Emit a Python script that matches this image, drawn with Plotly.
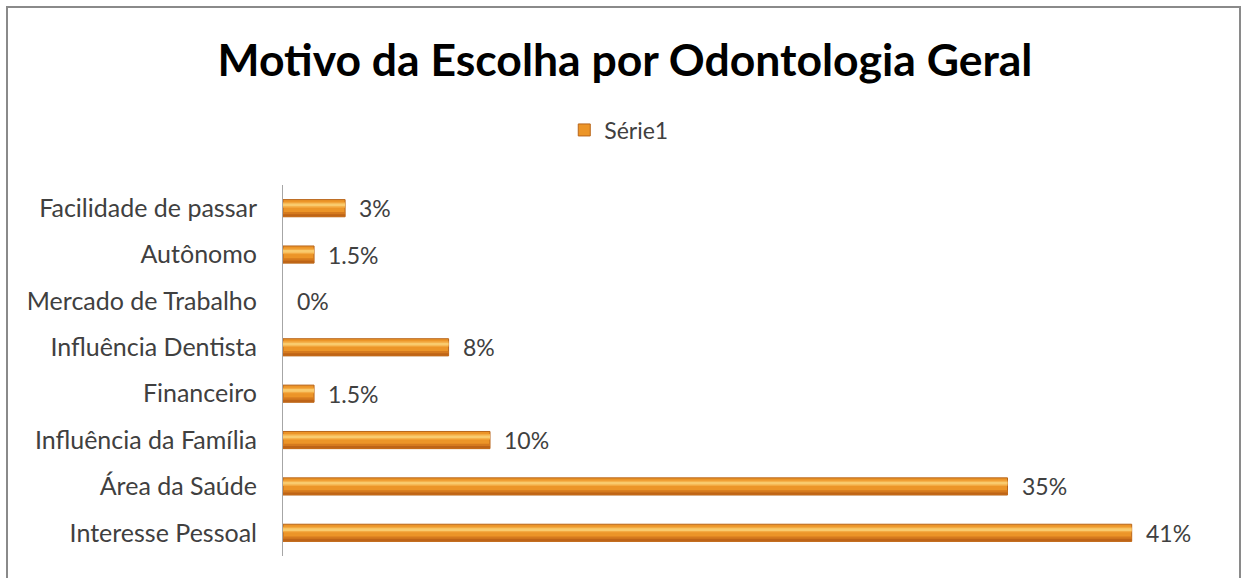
import plotly.graph_objects as go

# Survey answers, listed bottom to top as they appear on the axis
categories = [
    "Interesse Pessoal",
    "Área da Saúde",
    "Influência da Família",
    "Financeiro",
    "Influência Dentista",
    "Mercado de Trabalho",
    "Autônomo",
    "Facilidade de passar",
]
percent = [41, 35, 10, 1.5, 8, 0, 1.5, 3]
series_name = "Série1"
title_text = "Motivo da Escolha por Odontologia Geral"

W, H = 1245, 578
M_L, M_R, M_T, M_B = 283, 31, 185, 22
plot_w = W - M_L - M_R
plot_h = H - M_T - M_B

FONT = "Lato"
BAR_W = 0.37

fig = go.Figure()

# Base orange bar with a darker rim (no rim on empty bars)
fig.add_trace(go.Bar(
    x=percent, y=categories, orientation="h", name=series_name,
    width=BAR_W, offset=-BAR_W / 2,
    marker=dict(color="#EC9528",
                line=dict(color="#B8651A", width=[1 if v > 0 else 0 for v in percent])),
    showlegend=True, hoverinfo="skip",
))

# Shading bands stacked over the base bar: (band width, offset, colour)
shading = [
    (0.10, -BAR_W / 2 + 0.005, "#D57A1E"),
    (0.05, -BAR_W / 2 + 0.005, "#BE6417"),
    (0.12, 0.01, "#F3AA42"),
    (0.06, 0.04, "#F9CB6E"),
]
for band_w, band_off, band_col in shading:
    fig.add_trace(go.Bar(
        x=percent, y=categories, orientation="h",
        width=band_w, offset=band_off,
        marker=dict(color=band_col, line=dict(width=0)),
        showlegend=False, hoverinfo="skip",
    ))

# Value labels next to each bar end
annotations = []
for cat, v in zip(categories, percent):
    annotations.append(dict(
        x=v, y=cat, xref="x", yref="y", text=f"{v:g}%",
        showarrow=False, xanchor="left", yanchor="middle", xshift=12,
        font=dict(family=FONT, size=23, color="#404040"),
    ))

# Outer chart frame
def px_x(p):
    return (p - M_L) / plot_w

def px_y(p):
    return (H - M_B - p) / plot_h

frame = dict(
    type="rect", xref="paper", yref="paper",
    x0=px_x(7), x1=px_x(1240), y0=px_y(600), y1=px_y(7),
    line=dict(color="#8A8A8A", width=2), fillcolor="rgba(0,0,0,0)", layer="below",
)

fig.update_layout(
    width=W, height=H,
    margin=dict(l=M_L, r=M_R, t=M_T, b=M_B, pad=0),
    paper_bgcolor="white", plot_bgcolor="white",
    barmode="overlay",
    title=dict(
        text=f"<b>{title_text}</b>", x=0.502, xref="container", xanchor="center",
        y=1 - 60 / H, yref="container", yanchor="middle",
        font=dict(family=FONT, size=44.5, color="#000000"),
    ),
    legend=dict(
        orientation="h", x=0.497, xref="container", xanchor="center",
        y=1 - 130 / H, yref="container", yanchor="middle",
        font=dict(family=FONT, size=23, color="#404040"),
        itemwidth=30, bgcolor="rgba(0,0,0,0)",
    ),
    xaxis=dict(range=[0, plot_w / 20.7], visible=False, fixedrange=True),
    yaxis=dict(
        type="category", categoryorder="array", categoryarray=categories,
        range=[-0.5, len(categories) - 0.5],
        showline=True, linecolor="#A6A6A6", linewidth=1,
        showgrid=False, zeroline=False, ticks="",
        ticklabelstandoff=20,
        tickfont=dict(family=FONT, size=25, color="#404040"),
    ),
    annotations=annotations,
    shapes=[frame],
    showlegend=True,
)

fig.write_html("out.html")
